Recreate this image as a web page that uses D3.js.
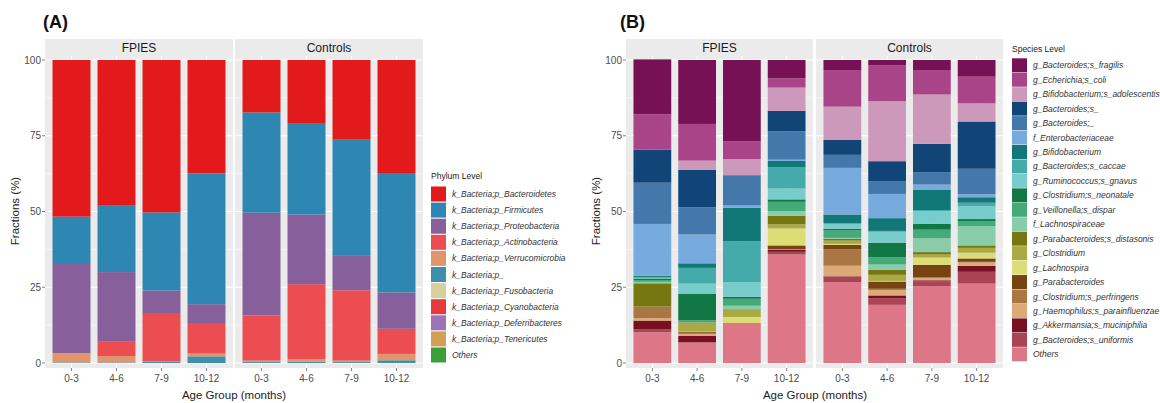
<!DOCTYPE html>
<html>
<head>
<meta charset="utf-8">
<script src="https://cdn.jsdelivr.net/npm/d3@7"></script>
<style>
  body { margin: 0; background: #fff; }
  svg { font-family: "Liberation Sans", Arial, sans-serif; }
</style>
</head>
<body>
<svg id="chart" width="1160" height="403"></svg>
<script>
// facets and x categories
const groups = ["FPIES", "Controls"];
const ages = ["0-3", "4-6", "7-9", "10-12"];
const yTicks = [0, 25, 50, 75, 100];

// panel (A): phylum level, legend order (first = top of stack)
const phyla = [
  "k_Bacteria;p_Bacteroidetes", "k_Bacteria;p_Firmicutes", "k_Bacteria;p_Proteobacteria",
  "k_Bacteria;p_Actinobacteria", "k_Bacteria;p_Verrucomicrobia", "k_Bacteria;p_",
  "k_Bacteria;p_Fusobacteria", "k_Bacteria;p_Cyanobacteria", "k_Bacteria;p_Deferribacteres",
  "k_Bacteria;p_Tenericutes", "Others"
];
const phylumColors = ["#E31A1C", "#2E86B2", "#875F9A", "#EB4D50", "#E0956D", "#3E8FA9",
  "#D8CF9A", "#E8393E", "#9B74B6", "#D49D58", "#3A9F37"];
// one row per phylum: FPIES 0-3, 4-6, 7-9, 10-12, Controls 0-3, 4-6, 7-9, 10-12
const phylumFractions = [
  [51.7, 48.1, 50.3, 37.4, 17.3, 20.8, 26.1, 37.3],
  [15.3, 21.9, 25.8, 43.2, 33.1, 30.2, 38.3, 39.4],
  [29.7, 23.0, 7.4, 6.2, 33.9, 23.0, 11.6, 12.0],
  [0.1, 4.7, 16.0, 10.1, 14.9, 24.8, 23.2, 8.3],
  [3.0, 2.1, 0.1, 0.9, 0.5, 0.8, 0.5, 2.1],
  [0.2, 0.2, 0.4, 2.2, 0.3, 0.4, 0.3, 0.9],
  [0, 0, 0, 0, 0, 0, 0, 0],
  [0, 0, 0, 0, 0, 0, 0, 0],
  [0, 0, 0, 0, 0, 0, 0, 0],
  [0, 0, 0, 0, 0, 0, 0, 0],
  [0, 0, 0, 0, 0, 0, 0, 0]
];

// panel (B): species level
const species = [
  "g_Bacteroides;s_fragilis", "g_Echerichia;s_coli", "g_Bifidobacterium;s_adolescentis",
  "g_Bacteroides;s_", "g_Bacteroides;_", "f_Enterobacteriaceae", "g_Bifidobacterium",
  "g_Bacteroides;s_caccae", "g_Ruminococcus;s_gnavus", "g_Clostridium;s_neonatale",
  "g_Veillonella;s_dispar", "f_Lachnospiraceae", "g_Parabacteroides;s_distasonis",
  "g_Clostridium", "g_Lachnospira", "g_Parabacteroides", "g_Clostridium;s_perfringens",
  "g_Haemophilus;s_parainfluenzae", "g_Akkermansia;s_muciniphilia", "g_Bacteroides;s_uniformis",
  "Others"
];
const speciesColors = ["#771155", "#AA4488", "#CC99BB", "#114477", "#4477AA", "#77AADD",
  "#117777", "#44AAAA", "#77CCCC", "#117744", "#44AA77", "#88CCAA", "#777711", "#AAAA44",
  "#DDDD77", "#774411", "#AA7744", "#DDAA77", "#771122", "#AA4455", "#DD7788"];
const speciesFractions = [
  [18.1, 21.1, 26.8, 6.0, 3.3, 1.8, 3.3, 5.5],
  [11.7, 12.1, 5.9, 3.1, 12.1, 11.8, 8.1, 8.8],
  [0, 3.1, 5.3, 7.7, 11.0, 19.8, 16.3, 6.0],
  [10.9, 12.3, 0, 6.7, 4.9, 6.6, 9.3, 15.6],
  [13.6, 9.0, 10.0, 9.4, 4.3, 4.2, 4.1, 8.4],
  [17.1, 9.5, 0.8, 0.4, 15.4, 8.0, 1.8, 1.0],
  [0.4, 1.5, 11.0, 2.0, 2.8, 4.2, 6.6, 1.8],
  [0.3, 5.2, 13.5, 7.1, 0.3, 0.3, 0.4, 1.1],
  [0.2, 3.3, 4.9, 3.6, 1.6, 3.6, 4.2, 4.3],
  [0.5, 8.8, 0.6, 0.8, 0.5, 4.8, 1.9, 0.7],
  [0.6, 0.6, 2.3, 3.1, 2.5, 2.4, 2.8, 1.6],
  [0.5, 0.1, 1.1, 1.5, 0.3, 1.7, 4.6, 6.4],
  [7.7, 0.2, 0, 2.8, 0.6, 1.7, 0.8, 0.8],
  [0.1, 2.8, 2.6, 1.4, 1.1, 2.0, 1.0, 1.6],
  [0, 0.1, 2.0, 5.6, 0.3, 0.2, 2.4, 1.9],
  [0, 0.3, 0, 1.3, 1.5, 2.4, 4.1, 1.1],
  [3.7, 0.4, 0, 0.1, 5.4, 0.4, 0.3, 0.2],
  [0.8, 0.6, 0, 0.1, 3.5, 1.8, 0.7, 1.1],
  [2.8, 2.1, 0, 0.6, 0.4, 0.9, 0.3, 2.0],
  [1.1, 0.2, 0, 0.9, 1.5, 2.2, 1.6, 3.9],
  [10.1, 6.7, 13.2, 35.8, 26.7, 19.2, 25.4, 26.2]
];

const svg = d3.select("#chart");

const drawPanel = (opts) => {
  const { label, labelX, panels, titleX, yTitleX, taxa, colors, fractions, legendTitle, legend } = opts;
  const y = d3.scaleLinear().domain([0, 100]).range([363, 60]);
  const stripTop = 39, stripH = 17, panelBottom = 368;

  svg.append("text").attr("x", labelX).attr("y", 28)
    .attr("font-size", "18px").attr("font-weight", "bold").attr("fill", "#111").text(label);

  const color = d3.scaleOrdinal().domain(taxa).range(colors);
  // stack bottom-up: last legend entry at the bottom
  const keys = taxa.slice().reverse();

  groups.forEach((g, gi) => {
    const [x0, x1] = panels[gi];
    const x = d3.scaleBand().domain(ages).range([x0, x1]).paddingInner(0.156).paddingOuter(0.167);
    const p = svg.append("g");

    p.append("rect").attr("x", x0).attr("y", stripTop).attr("width", x1 - x0)
      .attr("height", panelBottom - stripTop).attr("fill", "#EBEBEB");
    p.append("text").attr("x", (x0 + x1) / 2).attr("y", stripTop + stripH / 2 + 4)
      .attr("text-anchor", "middle").attr("font-size", "12px").attr("fill", "#1A1A1A").text(g);

    // grid
    d3.range(12.5, 100, 25).forEach(v => {
      p.append("line").attr("x1", x0).attr("x2", x1).attr("y1", y(v)).attr("y2", y(v))
        .attr("stroke", "#fff").attr("stroke-width", 0.5);
    });
    yTicks.forEach(v => {
      p.append("line").attr("x1", x0).attr("x2", x1).attr("y1", y(v)).attr("y2", y(v))
        .attr("stroke", "#fff").attr("stroke-width", 1);
    });
    ages.forEach(a => {
      const cx = x(a) + x.bandwidth() / 2;
      p.append("line").attr("x1", cx).attr("x2", cx).attr("y1", stripTop + stripH).attr("y2", panelBottom)
        .attr("stroke", "#fff").attr("stroke-width", 1);
    });

    // bars
    const rows = ages.map((a, ai) => {
      const row = { age: a };
      taxa.forEach((t, ti) => { row[t] = fractions[ti][gi * 4 + ai]; });
      return row;
    });
    const series = d3.stack().keys(keys)(rows);
    p.selectAll("g.layer").data(series).enter().append("g").attr("class", "layer")
      .attr("fill", d => color(d.key))
      .selectAll("rect").data(d => d).enter().append("rect")
      .attr("x", d => x(d.data.age))
      .attr("width", x.bandwidth())
      .attr("y", d => y(d[1]))
      .attr("height", d => Math.max(0, y(d[0]) - y(d[1])));

    // x axis
    ages.forEach(a => {
      const cx = x(a) + x.bandwidth() / 2;
      p.append("line").attr("x1", cx).attr("x2", cx).attr("y1", panelBottom).attr("y2", panelBottom + 3)
        .attr("stroke", "#333").attr("stroke-width", 0.6);
      p.append("text").attr("x", cx).attr("y", panelBottom + 14).attr("text-anchor", "middle")
        .attr("font-size", "10px").attr("fill", "#4D4D4D").text(a);
    });

    // y axis on first panel
    if (gi === 0) {
      yTicks.forEach(v => {
        p.append("line").attr("x1", x0 - 3).attr("x2", x0).attr("y1", y(v)).attr("y2", y(v))
          .attr("stroke", "#333").attr("stroke-width", 0.6);
        p.append("text").attr("x", x0 - 4).attr("y", y(v) + 3.5).attr("text-anchor", "end")
          .attr("font-size", "10px").attr("fill", "#4D4D4D").text(v);
      });
    }
  });

  svg.append("text").attr("x", titleX).attr("y", 399).attr("text-anchor", "middle")
    .attr("font-size", "11.5px").attr("fill", "#222").text("Age Group (months)");
  svg.append("text").attr("transform", `translate(${yTitleX},211) rotate(-90)`)
    .attr("text-anchor", "middle").attr("font-size", "11.5px").attr("fill", "#222").text("Fractions (%)");

  // legend
  const lg = svg.append("g");
  lg.append("text").attr("x", legend.x).attr("y", legend.titleY).attr("font-size", "8.5px")
    .attr("fill", "#222").text(legendTitle);
  taxa.forEach((t, i) => {
    const cy = legend.y0 + i * legend.step;
    lg.append("rect").attr("x", legend.x).attr("y", cy - legend.keyH / 2).attr("width", 15)
      .attr("height", legend.keyH).attr("fill", color(t));
    lg.append("text").attr("x", legend.x + 21).attr("y", cy + 3).attr("font-size", "8.5px")
      .attr("font-style", "italic").attr("fill", "#333").text(t);
  });
};

drawPanel({
  label: "(A)", labelX: 43,
  panels: [[45, 233], [235, 423]],
  titleX: 234, yTitleX: 19,
  taxa: phyla, colors: phylumColors, fractions: phylumFractions,
  legendTitle: "Phylum Level",
  legend: { x: 431, titleY: 179, y0: 194, step: 16.1, keyH: 15 }
});

drawPanel({
  label: "(B)", labelX: 620,
  panels: [[626, 813], [816, 1003]],
  titleX: 815, yTitleX: 600,
  taxa: species, colors: speciesColors, fractions: speciesFractions,
  legendTitle: "Species Level",
  legend: { x: 1012, titleY: 52, y0: 65.3, step: 14.45, keyH: 14 }
});
</script>
</body>
</html>
